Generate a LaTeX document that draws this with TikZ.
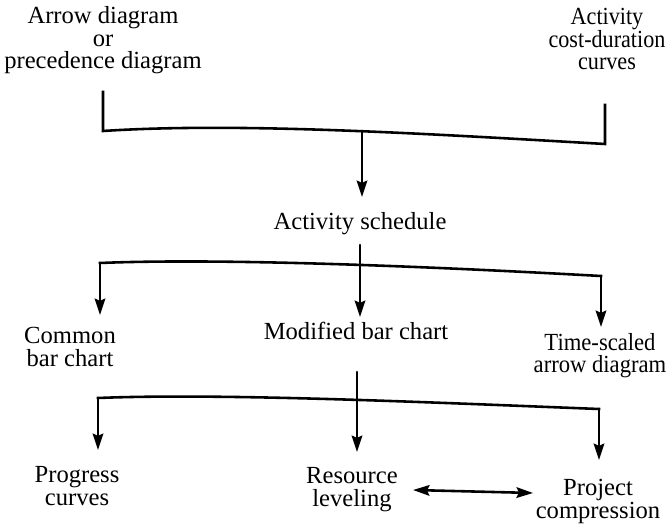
\documentclass[tikz,border=0pt]{standalone}
\usepackage{fontspec}
\setmainfont{Liberation Serif}
\usetikzlibrary{arrows,arrows.meta,calc}
\usepackage{tkz-euclide}

\tikzset{
  bracket/.style={line width=2.2pt,line join=miter,line cap=rect},
  feed/.style={line width=2.2pt,-{Stealth[length=14pt,width=9pt,inset=2pt]}},
  stage/.style={align=center,inner sep=0pt,anchor=base,
    font=\fontsize{21}{19.5}\selectfont},
}

\begin{document}
\begin{tikzpicture}[x=0.03cm,y=0.03cm]
\useasboundingbox (0,0) rectangle (667,524);

% bracket ends and arrow ends
\tkzDefPoints{103/432/TL,103/393/TLc,605/419/TR,605/380/TRc,
  240/402/Ta,430/390/Tb,362/393/Tm,362/327/Tend}
\tkzDefPoints{100/261/SLc,601/248/SRc,220/266/Sa,420/258/Sb,
  360/279/Stop,360/207/Send,100/209/SLend,601/197/SRend}
\tkzDefPoints{98/126/BLc,599/115/BRc,220/131/Ba,420/122/Bb,
  357/152/Btop,357/72/Bend,98/74/BLend,599/64/BRend}
\tkzDefPoints{413/34/Dl,533/31/Dr}

% stages (base = last line)
\node[stage] (arrowdiag) at (103,455) {Arrow diagram\\or\\precedence diagram};
\node[stage,xscale=.9,transform shape] (costcurve) at (607,454) {Activity\\cost-duration\\curves};
\node[stage] (schedule) at (360,294) {Activity schedule};
\node[stage] (common) at (70,158) {Common\\bar chart};
\node[stage] (modified) at (356,184) {Modified bar chart};
\node[stage,xscale=.92,transform shape] (timescaled) at (600,151) {Time-scaled\\arrow diagram};
\node[stage] (progress) at (77,19) {Progress\\curves};
\node[stage] (leveling) at (352,18) {Resource\\leveling};
\node[stage] (compress) at (598,6) {Project\\compression};

% first bracket
\draw[bracket] (TL) -- (TLc) .. controls (Ta) and (Tb) .. (TRc) -- (TR);
\tkzDrawSegments[feed](Tm,Tend)

% second bracket
\draw[bracket] (SLc) .. controls (Sa) and (Sb) .. (SRc);
\tkzDrawSegments[feed](Stop,Send SLc,SLend SRc,SRend)

% third bracket
\draw[bracket] (BLc) .. controls (Ba) and (Bb) .. (BRc);
\tkzDrawSegments[feed](Btop,Bend BLc,BLend BRc,BRend)

\tkzDrawSegments[feed,{Stealth[length=14pt,width=9pt,inset=2pt]}-{Stealth[length=14pt,width=9pt,inset=2pt]}](Dl,Dr)
\end{tikzpicture}
\end{document}
